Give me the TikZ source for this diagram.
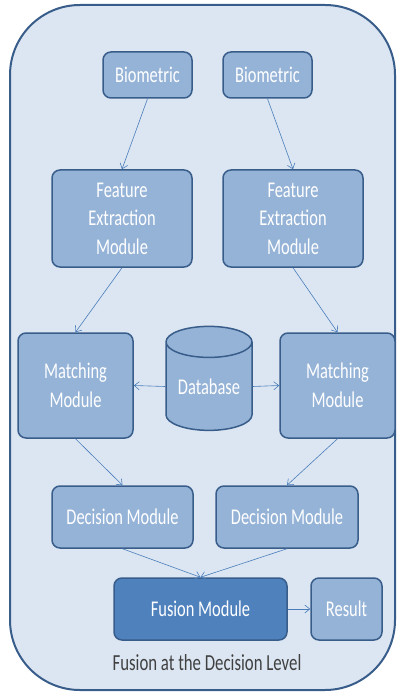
\documentclass[tikz,border=0pt]{standalone}
\usepackage{fontspec}
\setmainfont{Carlito}[FakeStretch=0.73]
\usepackage{tikz}
\usetikzlibrary{arrows.meta}
\usetikzlibrary{positioning}
\usetikzlibrary{shapes.geometric}

\definecolor{bgfill}{HTML}{DCE6F2}
\definecolor{bordercol}{HTML}{385D8A}
\definecolor{boxfill}{HTML}{95B3D7}
\definecolor{fusfill}{HTML}{4F81BD}
\definecolor{arrowcol}{HTML}{4A7EBB}
\definecolor{endfill}{HTML}{B9CDE5}
\definecolor{capcol}{HTML}{404040}

\tikzset{
  modbox/.style={draw=bordercol, line width=1.5pt, rounded corners=8pt, fill=boxfill,
    text=white, align=center, inner sep=0pt, font=\fontsize{22.5}{28.5}\selectfont},
  flow/.style={draw=arrowcol, line width=0.6pt, -{Straight Barb[length=5pt,width=8pt]}}
}

\begin{document}
\begin{tikzpicture}[x=1pt, y=-1pt, node distance=100pt]

\useasboundingbox (0,0) rectangle (396,692);
\draw[draw=bordercol, fill=bgfill, line width=2pt, rounded corners=70pt] (10,5) rectangle (395,690);

% Nodos
\node [modbox, minimum width=89pt, minimum height=46pt] at (147.5,75) (bio1) {Biometric};
\node [modbox, minimum width=89pt, minimum height=46pt, right of=bio1, xshift=20pt] (bio2) {Biometric};

\node [modbox, minimum width=140pt, minimum height=97pt, below of=bio1, xshift=-25.5pt, yshift=-43.5pt] (fe1) {Feature\\Extraction\\Module};
\node [modbox, minimum width=140pt, minimum height=97pt, below of=bio2, xshift=25.5pt, yshift=-43.5pt] (fe2) {Feature\\Extraction\\Module};

\node [modbox, minimum width=115pt, minimum height=105pt, below of=fe1, xshift=-46.5pt, yshift=-67pt] (mat1) {Matching\\Module};
\node [modbox, minimum width=115pt, minimum height=105pt, below of=fe2, xshift=44.5pt, yshift=-67pt] (mat2) {Matching\\Module};
\node [modbox, rounded corners=0pt, cylinder, shape border rotate=90, aspect=0.5, minimum width=86pt, minimum height=104pt,
  cylinder uses custom fill, cylinder body fill=boxfill, cylinder end fill=endfill,
  right of=mat1, xshift=33.5pt, yshift=-1pt] (db) {Database};

\node [modbox, minimum width=141pt, minimum height=62pt, below of=mat1, xshift=47pt, yshift=-31.5pt] (dec1) {Decision Module};
\node [modbox, minimum width=142pt, minimum height=62pt, below of=mat2, xshift=-50.5pt, yshift=-31.5pt] (dec2) {Decision Module};

\node [modbox, fill=fusfill, minimum width=173pt, minimum height=62pt, below of=dec1, xshift=78pt, yshift=8pt] (fus) {Fusion Module};
\node [modbox, minimum width=71pt, minimum height=62pt, right of=fus, xshift=46pt] (res) {Result};

\node [text=capcol, font=\fontsize{23}{25}\selectfont, below of=fus, xshift=6.5pt, yshift=46pt] (cap) {Fusion at the Decision Level};

% Conexiones
\draw[flow] (bio1.south) -- (fe1.north);
\draw[flow] (bio2.south) -- (fe2.north);
\draw[flow] (fe1.south) -- (mat1.north);
\draw[flow] (fe2.south) -- (mat2.north);
\draw[flow] (db.west) -- (mat1.east);
\draw[flow] (db.east) -- (mat2.west);
\draw[flow] (mat1.south) -- (dec1.north);
\draw[flow] (mat2.south) -- (dec2.north);
\draw[flow] (dec1.south) -- (fus.north);
\draw[flow] (dec2.south) -- (fus.north);
\draw[flow] (fus.east) -- (res.west);

\end{tikzpicture}
\end{document}
